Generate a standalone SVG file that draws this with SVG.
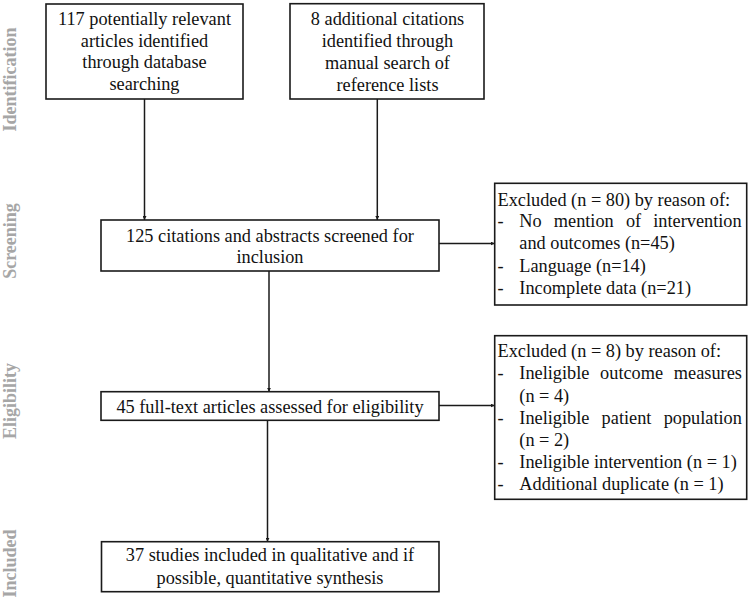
<svg xmlns="http://www.w3.org/2000/svg" width="749" height="601" viewBox="0 0 749 601">
<style>
.box{fill:#fff;stroke:#1a1a1a;stroke-width:1.6}
.t{font-family:"Liberation Serif","Times New Roman",serif;font-size:18.3px;fill:#111}
.c{text-anchor:middle}
.side{font-family:"Liberation Serif","Times New Roman",serif;font-size:18px;font-weight:bold;fill:#a6a6a6;text-anchor:middle}
.ln{stroke:#1a1a1a;stroke-width:1.5;fill:none}
</style>
<defs>
<marker id="ah" viewBox="0 0 6 6" refX="6" refY="3" markerWidth="4" markerHeight="4" markerUnits="userSpaceOnUse" orient="auto">
<path d="M0,0 L6,3 L0,6 z" fill="#1a1a1a"/>
</marker>
</defs>
<rect width="749" height="601" fill="#fff"/>
<g id="phase-labels">
<text class="side" transform="translate(16,79.5) rotate(-90)">Identification</text>
<text class="side" transform="translate(16,241) rotate(-90)">Screening</text>
<text class="side" transform="translate(16,401) rotate(-90)">Eligibility</text>
<text class="side" transform="translate(16,563.5) rotate(-90)">Included</text>
</g>
<g id="connectors">
<line class="ln" x1="144.5" y1="99" x2="144.5" y2="220" marker-end="url(#ah)"/>
<line class="ln" x1="377.3" y1="99" x2="377.3" y2="220" marker-end="url(#ah)"/>
<line class="ln" x1="269" y1="271" x2="269" y2="391.7" marker-end="url(#ah)"/>
<line class="ln" x1="267.5" y1="420.3" x2="267.5" y2="541.7" marker-end="url(#ah)"/>
<line class="ln" x1="439" y1="243.5" x2="494.7" y2="243.5" marker-end="url(#ah)"/>
<line class="ln" x1="439" y1="405.5" x2="494.7" y2="405.5" marker-end="url(#ah)"/>
</g>
<g id="n-database">
<rect class="box" x="46" y="4" width="197" height="95"/>
<text class="t c" x="144.5" y="25">117 potentially relevant</text>
<text class="t c" x="144.5" y="46.7">articles identified</text>
<text class="t c" x="144.5" y="68.3">through database</text>
<text class="t c" x="144.5" y="90">searching</text>
</g>
<g id="n-manual">
<rect class="box" x="290" y="3.7" width="194" height="95.3"/>
<text class="t c" x="387.5" y="25">8 additional citations</text>
<text class="t c" x="387.5" y="47.3">identified through</text>
<text class="t c" x="387.5" y="69.3">manual search of</text>
<text class="t c" x="387.5" y="91">reference lists</text>
</g>
<g id="n-screened">
<rect class="box" x="101" y="220" width="338" height="51"/>
<text class="t c" x="270" y="241.7">125 citations and abstracts screened for</text>
<text class="t c" x="270" y="263.3">inclusion</text>
</g>
<g id="n-excluded80">
<rect class="box" x="494.7" y="183.3" width="252" height="121.7"/>
<text class="t" x="497.5" y="205.7">Excluded (n = 80) by reason of:</text>
<text class="t" x="497.5" y="227.3">-</text>
<text class="t" x="519.3" y="227.3" word-spacing="7.6">No mention of intervention</text>
<text class="t" x="519.3" y="249.3">and outcomes (n=45)</text>
<text class="t" x="497.5" y="271.7">-</text>
<text class="t" x="519.3" y="271.7">Language (n=14)</text>
<text class="t" x="497.5" y="294">-</text>
<text class="t" x="519.3" y="294">Incomplete data (n=21)</text>
</g>
<g id="n-fulltext">
<rect class="box" x="101" y="391.7" width="338" height="28.6"/>
<text class="t c" x="270" y="413.3">45 full-text articles assessed for eligibility</text>
</g>
<g id="n-excluded8">
<rect class="box" x="494.7" y="335.7" width="252" height="163.6"/>
<text class="t" x="497.5" y="356.7">Excluded (n = 8) by reason of:</text>
<text class="t" x="497.5" y="379">-</text>
<text class="t" x="519.3" y="379" word-spacing="6.2">Ineligible outcome measures</text>
<text class="t" x="519.3" y="401.7">(n = 4)</text>
<text class="t" x="497.5" y="424">-</text>
<text class="t" x="519.3" y="424" word-spacing="7.7">Ineligible patient population</text>
<text class="t" x="519.3" y="446">(n = 2)</text>
<text class="t" x="497.5" y="467.7">-</text>
<text class="t" x="519.3" y="467.7">Ineligible intervention (n = 1)</text>
<text class="t" x="497.5" y="490">-</text>
<text class="t" x="519.3" y="490">Additional duplicate (n = 1)</text>
</g>
<g id="n-included">
<rect class="box" x="101.5" y="541.7" width="337.5" height="50"/>
<text class="t c" x="270" y="561">37 studies included in qualitative and if</text>
<text class="t c" x="270" y="584.3">possible, quantitative synthesis</text>
</g>
</svg>
